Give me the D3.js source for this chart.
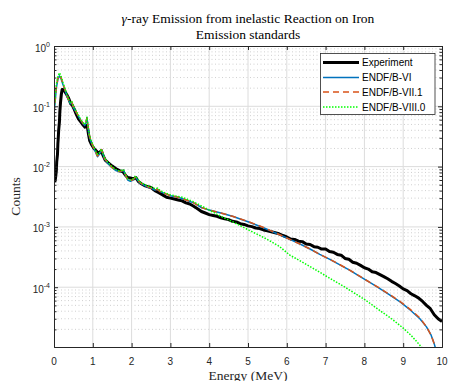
<!DOCTYPE html>
<html>
<head>
<meta charset="utf-8">
<script src="https://cdn.jsdelivr.net/npm/d3@7"></script>
<style>
  html, body { margin: 0; padding: 0; background: #fff; }
  svg { display: block; }
</style>
</head>
<body>
<svg id="chart" width="449" height="381"></svg>
<script>
// ---------------- DATA ----------------
const titleLine1 = ["γ", "-ray Emission from inelastic Reaction on Iron"];
const titleLine2 = "Emission standards";
const xLabel = "Energy (MeV)";
const yLabel = "Counts";
const xTicks = [0, 1, 2, 3, 4, 5, 6, 7, 8, 9, 10];
const yTickExponents = [0, -1, -2, -3, -4];
const seriesNames = ["Experiment", "ENDF/B-VI", "ENDF/B-VII.1", "ENDF/B-VIII.0"];

const expEnergy = [0.02,0.04,0.06,0.07,0.09,0.10,0.11,0.12,0.14,0.15,0.17,0.19,0.21,0.24,0.28,0.33,0.38,0.43,0.47,0.52,0.57,0.63,0.69,0.75,0.80,0.83,0.86,0.89,0.92,0.97,1.03,1.10,1.16,1.22,1.26,1.32,1.40,1.50,1.60,1.70,1.78,1.84,1.90,2.00,2.06,2.11,2.17,2.25,2.35,2.45,
  2.5,2.6,2.7,2.8,2.9,3.0,3.1,3.2,3.3,3.4,3.5,3.6,3.7,3.8,3.9,4.0,4.1,4.2,4.3,4.4,4.5,4.6,4.7,4.8,4.9,5.0,5.1,5.2,5.3,5.4,5.5,5.6,5.7,5.8,5.9,
  6.0,6.1,6.2,6.3,6.4,6.5,6.6,6.7,6.8,6.9,7.0,7.1,7.2,7.3,7.4,7.5,7.6,7.7,7.8,7.9,8.0,8.1,8.2,8.3,8.4,8.5,8.6,8.7,8.8,8.9,9.0,9.1,9.2,9.3,9.4,9.5,9.6,9.7,9.8,9.9,10.0];
const expCounts = [0.0055,0.0065,0.0085,0.012,0.016,0.024,0.030,0.040,0.055,0.080,0.12,0.16,0.19,0.19,0.175,0.155,0.135,0.11,0.105,0.09,0.075,0.062,0.055,0.049,0.045,0.048,0.046,0.034,0.027,0.023,0.020,0.018,0.0165,0.0185,0.0155,0.0128,0.0115,0.0102,0.0092,0.0085,0.0082,0.0072,0.0066,0.0064,0.0063,0.0066,0.0057,0.0052,0.0048,0.0046,
  0.0045,0.0040,0.0037,0.0034,0.0031,0.0030,0.0029,0.0028,0.0027,0.0025,0.0024,0.0022,0.0020,0.0018,0.0017,0.0016,0.00155,0.00150,0.00142,0.00136,0.00132,0.00124,0.00121,0.00113,0.00110,0.00104,0.00101,0.00096,0.00094,0.00089,0.00086,0.00083,0.00080,0.00077,0.00072,
  0.00068,0.00063,0.00062,0.00058,0.00057,0.00052,0.00051,0.00047,0.00046,0.00043,0.00043,0.00039,0.00038,0.00035,0.00034,0.00030,0.00029,0.00026,0.00025,0.00023,0.00021,0.00020,0.00018,0.000175,0.000162,0.00015,0.000138,0.000125,0.000115,0.000105,0.000094,0.000088,0.000078,0.000072,0.000066,0.000058,0.000050,0.000044,0.000035,0.000030,0.000027];

const viEnergy = [0.0,0.03,0.06,0.10,0.14,0.18,0.23,0.28,0.33,0.38,0.42,0.46,0.50,0.56,0.62,0.68,0.74,0.79,0.82,0.85,0.87,0.90,0.95,1.00,1.06,1.12,1.17,1.22,1.25,1.30,1.38,1.48,1.58,1.68,1.75,1.79,1.84,1.90,1.97,2.04,2.10,2.15,2.22,2.30,2.40,2.50,2.60,2.67,2.72,2.80,2.90,
  3.0,3.2,3.4,3.6,3.8,4.0,4.3,4.6,5.0,5.4,5.8,6.08,6.34,6.6,6.85,7.11,7.37,7.63,7.89,8.14,8.4,8.66,8.92,9.18,9.43,9.6,9.72,9.8,9.87];
const viCounts = [0.075,0.12,0.20,0.28,0.32,0.29,0.23,0.19,0.15,0.125,0.11,0.115,0.095,0.082,0.070,0.060,0.052,0.048,0.052,0.065,0.050,0.034,0.026,0.022,0.018,0.0146,0.016,0.019,0.017,0.0135,0.0115,0.0098,0.0087,0.0082,0.0084,0.0088,0.0072,0.0060,0.0057,0.0060,0.0068,0.0060,0.0053,0.0050,0.0046,0.0044,0.0041,0.0042,0.0039,0.0037,0.0035,
  0.0033,0.0031,0.0028,0.0025,0.0021,0.0019,0.0017,0.0015,0.00122,0.00097,0.00075,0.00062,0.00052,0.00043,0.00035,0.00029,0.000235,0.00019,0.00015,0.00012,0.000095,0.000074,0.000057,0.000042,0.000030,0.000022,0.000016,0.0000115,0.000008];

const vii1Energy = [0.0,0.03,0.06,0.10,0.14,0.18,0.23,0.28,0.33,0.38,0.42,0.46,0.50,0.56,0.62,0.68,0.74,0.79,0.82,0.85,0.87,0.90,0.95,1.00,1.06,1.12,1.17,1.22,1.25,1.30,1.38,1.48,1.58,1.68,1.75,1.79,1.84,1.90,1.97,2.04,2.10,2.15,2.22,2.30,2.40,2.50,2.60,2.67,2.72,2.80,2.90,
  3.0,3.2,3.4,3.6,3.8,4.0,4.3,4.6,5.0,5.4,5.8,6.08,6.34,6.6,6.85,7.11,7.37,7.63,7.89,8.14,8.4,8.66,8.92,9.18,9.43,9.6,9.72,9.8,9.87];
const vii1Counts = [0.078,0.125,0.21,0.29,0.33,0.30,0.235,0.19,0.152,0.126,0.112,0.117,0.096,0.083,0.071,0.060,0.053,0.049,0.053,0.064,0.051,0.035,0.027,0.022,0.0182,0.0150,0.0163,0.0192,0.0172,0.0137,0.0117,0.0099,0.0088,0.0083,0.0085,0.0087,0.0073,0.0061,0.0058,0.0061,0.0067,0.0061,0.0054,0.0050,0.0047,0.0044,0.0041,0.0042,0.0039,0.0037,0.0035,
  0.0033,0.0031,0.0028,0.0025,0.0021,0.0019,0.0017,0.0015,0.00123,0.00098,0.00075,0.00062,0.00052,0.00043,0.00035,0.00029,0.000236,0.00019,0.000151,0.00012,0.000096,0.000075,0.000058,0.000043,0.000031,0.000022,0.000016,0.0000115,0.000008];

const viiiEnergy = [0.0,0.03,0.06,0.10,0.14,0.18,0.23,0.28,0.33,0.38,0.42,0.46,0.50,0.56,0.62,0.68,0.74,0.79,0.82,0.85,0.87,0.90,0.95,1.00,1.06,1.12,1.17,1.22,1.25,1.30,1.38,1.48,1.58,1.68,1.75,1.79,1.84,1.90,1.97,2.04,2.10,2.15,2.22,2.30,2.40,2.50,2.60,2.67,2.72,2.80,2.90,
  3.0,3.3,3.55,3.76,4.0,4.3,4.6,5.0,5.4,5.8,6.08,6.5,7.0,7.5,8.0,8.4,8.7,9.0,9.2,9.35,9.48,9.6];
const viiiCounts = [0.085,0.14,0.23,0.31,0.36,0.32,0.25,0.20,0.16,0.13,0.115,0.12,0.10,0.086,0.073,0.062,0.054,0.050,0.054,0.066,0.052,0.036,0.028,0.023,0.019,0.016,0.017,0.0195,0.0175,0.014,0.012,0.0102,0.0090,0.0085,0.0087,0.0090,0.0075,0.0063,0.0060,0.0063,0.0070,0.0063,0.0055,0.0052,0.0048,0.0046,0.0043,0.0044,0.0041,0.0038,0.0036,
  0.0034,0.0031,0.0027,0.0023,0.0019,0.0015,0.00122,0.00090,0.00067,0.00048,0.00034,0.00024,0.000155,0.000100,0.000063,0.000041,0.000030,0.000021,0.000016,0.0000125,0.0000100,0.0000075];

const colors = ["#000000", "#0072BD", "#D95319", "#00FF00"];

// ---------------- CHART ----------------
const svg = d3.select("#chart");
const L = 54, R = 442, T = 46, B = 347;
const x = d3.scaleLinear().domain([0, 10]).range([L, R]);
const y = d3.scaleLog().domain([1.02e-5, 1]).range([B, T]);
const axisColor = "#262626";

// minor y grid (dotted)
const minorVals = [];
for (let e = -5; e < 0; e++) for (let m = 2; m <= 9; m++) {
  const v = m * Math.pow(10, e);
  if (v >= 1.02e-5 && v < 1) minorVals.push(v);
}
svg.append("g").selectAll("line").data(minorVals).join("line")
  .attr("x1", L).attr("x2", R)
  .attr("y1", d => y(d)).attr("y2", d => y(d))
  .attr("stroke", "#c4c4c4").attr("stroke-width", 0.8)
  .attr("stroke-dasharray", "1,2.5");

// major grid
const majorY = yTickExponents.map(e => Math.pow(10, e));
svg.append("g").selectAll("line").data(xTicks.slice(1, -1)).join("line")
  .attr("x1", d => x(d)).attr("x2", d => x(d)).attr("y1", T).attr("y2", B)
  .attr("stroke", "#dcdcdc").attr("stroke-width", 1);
svg.append("g").selectAll("line").data(majorY.slice(1)).join("line")
  .attr("x1", L).attr("x2", R).attr("y1", d => y(d)).attr("y2", d => y(d))
  .attr("stroke", "#dcdcdc").attr("stroke-width", 1);

// clip
svg.append("clipPath").attr("id", "clip").append("rect")
  .attr("x", L).attr("y", T).attr("width", R - L).attr("height", B - T);

const line = d3.line().x(d => x(d[0])).y(d => y(d[1]));
const plot = svg.append("g").attr("clip-path", "url(#clip)");

const series = [
  {E: expEnergy, C: expCounts, color: colors[0], w: 3, dash: null},
  {E: viEnergy, C: viCounts, color: colors[1], w: 1.5, dash: null},
  {E: vii1Energy, C: vii1Counts, color: colors[2], w: 1.5, dash: "6,4"},
  {E: viiiEnergy, C: viiiCounts, color: colors[3], w: 1.5, dash: "1.5,1.5"}
];
series.forEach(s => {
  plot.append("path")
    .datum(s.E.map((e, k) => [e, s.C[k]]))
    .attr("d", line)
    .attr("fill", "none")
    .attr("stroke", s.color)
    .attr("stroke-width", s.w)
    .attr("stroke-linejoin", "round")
    .attr("stroke-dasharray", s.dash);
});

// axes frame with ticks (inward)
const bottomAxis = d3.axisBottom(x).tickValues(xTicks).tickSize(-4).tickFormat("");
const topAxis = d3.axisTop(x).tickValues(xTicks).tickSize(-4).tickFormat("");
const leftAxis = d3.axisLeft(y).tickValues(majorY).tickSize(-4).tickFormat("");
const rightAxis = d3.axisRight(y).tickValues(majorY).tickSize(-4).tickFormat("");
const leftMinor = d3.axisLeft(y).tickValues(minorVals).tickSize(-2.5).tickFormat("");
const rightMinor = d3.axisRight(y).tickValues(minorVals).tickSize(-2.5).tickFormat("");

function styleAxis(g) {
  g.selectAll("path").attr("stroke", axisColor).attr("stroke-width", 1);
  g.selectAll("line").attr("stroke", axisColor).attr("stroke-width", 1);
}
svg.append("g").attr("transform", `translate(0,${B})`).call(bottomAxis).call(styleAxis);
svg.append("g").attr("transform", `translate(0,${T})`).call(topAxis).call(styleAxis);
svg.append("g").attr("transform", `translate(${L},0)`).call(leftAxis).call(styleAxis);
svg.append("g").attr("transform", `translate(${R},0)`).call(rightAxis).call(styleAxis);
svg.append("g").attr("transform", `translate(${L},0)`).call(leftMinor).call(styleAxis).select("path").remove();
svg.append("g").attr("transform", `translate(${R},0)`).call(rightMinor).call(styleAxis).select("path").remove();

// tick labels
const sans = "'Liberation Sans', Arial, Helvetica, sans-serif";
const serif = "'Liberation Serif', 'Times New Roman', serif";
svg.append("g").selectAll("text").data(xTicks).join("text")
  .attr("x", d => x(d)).attr("y", 365)
  .attr("text-anchor", "middle")
  .attr("font-family", sans).attr("font-size", 10).attr("fill", axisColor)
  .text(d => d);

const yl = svg.append("g").selectAll("text").data(yTickExponents).join("text")
  .attr("x", 50).attr("y", d => y(Math.pow(10, d)) + 5.5)
  .attr("text-anchor", "end")
  .attr("font-family", sans).attr("font-size", 10).attr("fill", axisColor);
yl.append("tspan").text("10");
yl.append("tspan").attr("dy", -5).attr("font-size", 7).text(d => d);

// titles
const t1 = svg.append("text").attr("x", 248).attr("y", 23).attr("text-anchor", "middle")
  .attr("font-family", serif).attr("font-size", 13.5).attr("fill", "#000");
t1.append("tspan").attr("font-style", "italic").text(titleLine1[0]);
t1.append("tspan").text(titleLine1[1]);
svg.append("text").attr("x", 248).attr("y", 39).attr("text-anchor", "middle")
  .attr("font-family", serif).attr("font-size", 13.5).attr("fill", "#000")
  .text(titleLine2);

svg.append("text").attr("x", 248).attr("y", 379.5).attr("text-anchor", "middle")
  .attr("font-family", serif).attr("font-size", 13.5).attr("fill", axisColor)
  .text(xLabel);
svg.append("text").attr("transform", "translate(19.5,196.5) rotate(-90)")
  .attr("text-anchor", "middle")
  .attr("font-family", serif).attr("font-size", 13.5).attr("fill", axisColor)
  .text(yLabel);

// legend
const lg = svg.append("g");
lg.append("rect").attr("x", 320.5).attr("y", 53.5).attr("width", 114.5).attr("height", 61)
  .attr("fill", "#fff").attr("stroke", axisColor).attr("stroke-width", 0.8);
const rowY = [62.5, 77.5, 92, 107];
series.forEach((s, i) => {
  lg.append("line").attr("x1", 323).attr("x2", 359).attr("y1", rowY[i]).attr("y2", rowY[i])
    .attr("stroke", s.color).attr("stroke-width", s.w).attr("stroke-dasharray", s.dash);
  lg.append("text").attr("x", 362).attr("y", rowY[i] + 3.6)
    .attr("font-family", sans).attr("font-size", 10).attr("fill", "#000")
    .text(seriesNames[i]);
});
</script>
</body>
</html>
